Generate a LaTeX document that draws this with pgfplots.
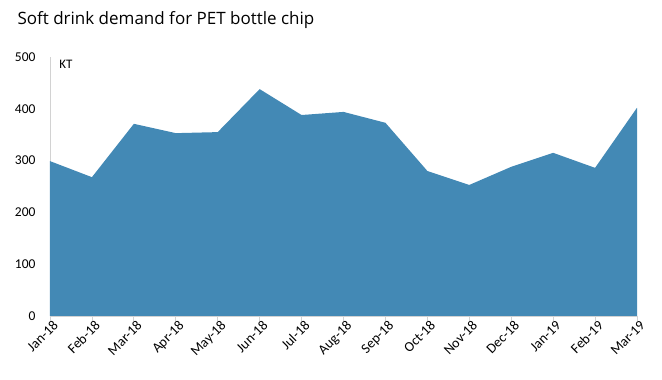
\documentclass[border=0pt]{standalone}
\usepackage{pgfplots}
\pgfplotsset{compat=1.18}
\usetikzlibrary{calc}
\usepackage{fontspec}
\setmainfont{Carlito}
\newfontfamily\titlefont{Open Sans}
\definecolor{area}{RGB}{67,137,181}
\definecolor{axgray}{RGB}{210,210,210}
\begin{document}
\begin{tikzpicture}
\begin{axis}[
  name=ax,
  scale only axis,
  width=587pt, height=259pt,
  xmin=0, xmax=14, ymin=0, ymax=500,
  axis lines*=left,
  axis line style={axgray, line width=0.8pt},
  xtick={0,...,14},
  xticklabels={Jan-18,Feb-18,Mar-18,Apr-18,May-18,Jun-18,Jul-18,Aug-18,Sep-18,Oct-18,Nov-18,Dec-18,Jan-19,Feb-19,Mar-19},
  x tick label style={rotate=45, anchor=north east, font=\fontsize{14}{14}\selectfont, inner sep=0.5pt, xshift=3pt},
  ytick={0,100,...,500},
  y tick label style={font=\fontsize{13.5}{13.5}\selectfont, xshift=-6pt},
  /pgf/number format/assume math mode=true,
  xtick style={axgray, line width=0.8pt},
  ytick style={draw=none},
  tick align=outside,
  major tick length=5pt,
  clip=false,
]
\addplot[draw=none, fill=area] coordinates {
(0,299) (1,268) (2,371) (3,353) (4,355) (5,438) (6,388) (7,394) (8,373) (9,280) (10,253) (11,288) (12,315) (13,286) (14,402)
} \closedcycle;
\node[anchor=west, font=\fontsize{13}{13}\selectfont] at (axis cs:0.14,486) {KT};
\end{axis}
\path (ax.south west) ++(-50pt,-64pt) rectangle ++(662pt,380pt);
\node[anchor=west, font=\titlefont\fontsize{17}{17}\selectfont] at ($(ax.south west)+(-36pt,296pt)$) {Soft drink demand for PET bottle chip};
\end{tikzpicture}
\end{document}
